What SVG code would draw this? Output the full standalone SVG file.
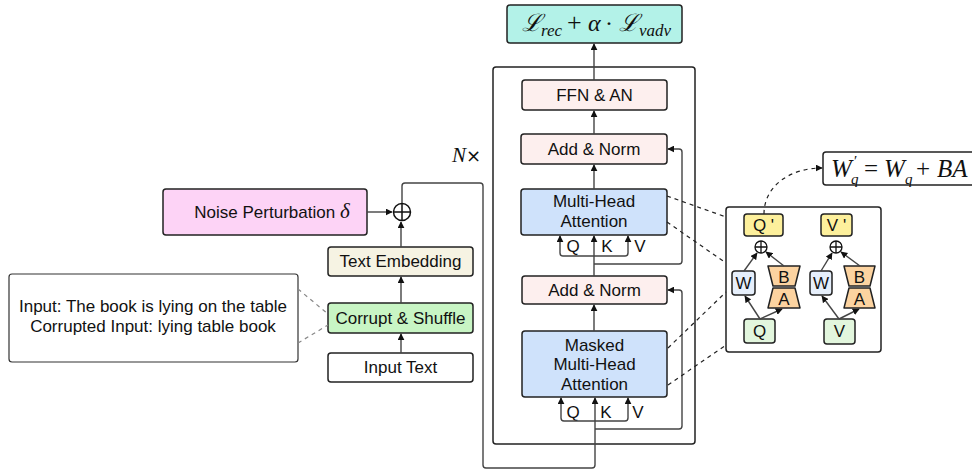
<svg xmlns="http://www.w3.org/2000/svg" width="972" height="473" viewBox="0 0 972 473">
<defs>
<marker id="ah" viewBox="0 0 10 10" refX="9" refY="5" markerWidth="7" markerHeight="7" markerUnits="userSpaceOnUse" orient="auto">
<path d="M0,0 L10,5 L0,10 z" fill="#111"/>
</marker>
</defs>
<style>
.box{stroke:#222;stroke-width:1.5}
.t{font-family:"Liberation Sans",Arial,sans-serif;font-size:17px;fill:#111;text-anchor:middle}
.m{font-family:"Liberation Serif","DejaVu Serif",serif;font-style:italic;fill:#111}
.c{fill:none;stroke:#444;stroke-width:1.4}
.d{fill:none;stroke:#222;stroke-width:1.2;stroke-dasharray:4,4}
.dg{fill:none;stroke:#888;stroke-width:1.2;stroke-dasharray:4,4}
.a{marker-end:url(#ah)}
</style>

<g id="frame"><rect x="493" y="67" width="202" height="377" rx="3" fill="none" class="box"/></g>
<g id="nx"><text x="452" y="162" class="m" font-size="21">N<tspan font-style="normal" font-family="DejaVu Sans,sans-serif" font-size="18">×</tspan></text></g>

<g id="loss">
<rect x="507" y="5" width="175" height="38" rx="3" fill="#b3f2e8" class="box"/>
<text class="m" y="31" font-size="24"><tspan x="522">ℒ</tspan><tspan x="541" y="36" font-size="17">rec</tspan><tspan x="567" y="31" font-style="normal" font-size="26">+</tspan><tspan x="588">α</tspan><tspan x="605" font-style="normal">·</tspan><tspan x="619">ℒ</tspan><tspan x="639" y="36" font-size="17">vadv</tspan></text>
</g>

<g id="ffn"><rect x="522" y="80" width="145" height="30" rx="3" fill="#fdefee" class="box"/><text x="594.5" y="101" class="t">FFN &amp; AN</text></g>
<g id="addnorm1"><rect x="521" y="134" width="146" height="30" rx="3" fill="#fdefee" class="box"/><text x="594" y="155" class="t">Add &amp; Norm</text></g>
<g id="mha"><rect x="521" y="189" width="146" height="46" rx="3" fill="#cfe2fb" class="box"/><text x="594" y="207" class="t">Multi-Head</text><text x="594" y="227" class="t">Attention</text></g>
<g id="qkv1"><text x="573" y="252" class="t">Q</text><text x="607" y="252" class="t">K</text><text x="640" y="252" class="t">V</text></g>
<g id="addnorm2"><rect x="522" y="276" width="145" height="28" rx="3" fill="#fdefee" class="box"/><text x="594.5" y="296" class="t">Add &amp; Norm</text></g>
<g id="mmha"><rect x="522" y="331" width="145" height="66" rx="3" fill="#cfe2fb" class="box"/><text x="594.5" y="351" class="t">Masked</text><text x="594.5" y="370" class="t">Multi-Head</text><text x="594.5" y="390" class="t">Attention</text></g>
<g id="qkv2"><text x="573" y="418" class="t">Q</text><text x="606" y="418" class="t">K</text><text x="638" y="418" class="t">V</text></g>

<g id="noise"><rect x="163" y="189" width="204" height="46" rx="3" fill="#fdd3f6" class="box"/><text x="272" y="218" class="t">Noise Perturbation <tspan class="m" font-size="21">δ</tspan></text></g>
<g id="plus"><circle cx="402" cy="212" r="8.5" fill="#fff" stroke="#111" stroke-width="1.5"/><path d="M393.5,212 H410.5 M402,203.5 V220.5" stroke="#111" stroke-width="1.5"/></g>
<g id="textemb"><rect x="328" y="247" width="145" height="29" rx="3" fill="#f6f3e3" class="box"/><text x="400.5" y="267" class="t">Text Embedding</text></g>
<g id="corrupt"><rect x="328" y="303" width="145" height="30" rx="3" fill="#c8f5c4" class="box"/><text x="400.5" y="324" class="t">Corrupt &amp; Shuffle</text></g>
<g id="input"><rect x="328" y="353" width="145" height="29" rx="3" fill="#fff" class="box"/><text x="400.5" y="373" class="t">Input Text</text></g>
<g id="example"><rect x="9" y="274" width="289" height="88" rx="3" fill="#fff" stroke="#333" stroke-width="1.2"/><text x="153" y="312" class="t">Input: The book is lying on the table</text><text x="153" y="332" class="t">Corrupted Input: lying table book</text></g>

<g id="formula"><rect x="823" y="152" width="160" height="33" rx="3" fill="#fff" class="box"/>
<text class="m" y="177" font-size="25"><tspan x="831">W</tspan><tspan x="854" y="166" font-size="15" font-style="normal">′</tspan><tspan x="851" y="184" font-size="15">q</tspan><tspan x="864" y="177" font-style="normal">=</tspan><tspan x="884">W</tspan><tspan x="905" y="184" font-size="15">q</tspan><tspan x="916" y="177" font-style="normal">+</tspan><tspan x="937">BA</tspan></text></g>

<g id="lora">
<rect x="726" y="207" width="155" height="145" rx="3" fill="#fff" class="box"/>
<g id="qprime"><rect x="744" y="214" width="39" height="22" rx="3" fill="#fdf09c" class="box"/><text x="763.5" y="231" class="t" font-size="16">Q '</text></g>
<g id="vprime"><rect x="821" y="214" width="31" height="22" rx="3" fill="#fdf09c" class="box"/><text x="836.5" y="231" class="t" font-size="16">V '</text></g>
<g id="plusq"><circle cx="761" cy="247" r="6" fill="#fff" stroke="#111" stroke-width="1.3"/><path d="M755,247 H767 M761,241 V253" stroke="#111" stroke-width="1.3"/></g>
<g id="plusv"><circle cx="836" cy="247" r="6" fill="#fff" stroke="#111" stroke-width="1.3"/><path d="M830,247 H842 M836,241 V253" stroke="#111" stroke-width="1.3"/></g>
<g id="wq"><rect x="732" y="271" width="23" height="24" rx="3" fill="#e6effb" class="box"/><text x="743.5" y="289" class="t" font-size="16">W</text></g>
<g id="wv"><rect x="810" y="271" width="22" height="24" rx="3" fill="#e6effb" class="box"/><text x="821" y="289" class="t" font-size="16">W</text></g>
<g id="bq"><path d="M768,266 H800 L795,286 H773 Z" fill="#fcd3a0" class="box" stroke-linejoin="round"/><text x="784" y="283" class="t" font-size="16">B</text></g>
<g id="aq"><path d="M773,288 H795 L800,308 H768 Z" fill="#fcd3a0" class="box" stroke-linejoin="round"/><text x="784" y="305" class="t" font-size="16">A</text></g>
<g id="bv"><path d="M844,266 H875 L870,286 H849 Z" fill="#fcd3a0" class="box" stroke-linejoin="round"/><text x="859.5" y="283" class="t" font-size="16">B</text></g>
<g id="av"><path d="M849,288 H870 L875,308 H844 Z" fill="#fcd3a0" class="box" stroke-linejoin="round"/><text x="859.5" y="305" class="t" font-size="16">A</text></g>
<g id="qin"><rect x="744" y="319" width="31" height="24" rx="3" fill="#e2f6dd" class="box"/><text x="759.5" y="337" class="t" font-size="16">Q</text></g>
<g id="vin"><rect x="824" y="319" width="31" height="25" rx="3" fill="#e2f6dd" class="box"/><text x="839.5" y="337" class="t" font-size="16">V</text></g>
</g>

<g id="connectors">
<path class="c a" d="M401,353 V334"/>
<path class="c a" d="M401,303 V277"/>
<path class="c a" d="M401,247 V222"/>
<path class="c a" d="M367,212 H392"/>
<path class="c a" d="M402,203 V186 Q402,183 405,183 H480 Q483,183 483,186 V465 Q483,468 486,468 H592 Q595,468 595,465 V398"/>
<path class="c a" d="M595,421 H564 Q561,421 561,418 V398"/>
<path class="c a" d="M595,421 H625 Q628,421 628,418 V398"/>
<path class="c a" d="M595,429 H679 Q682,429 682,426 V293 Q682,290 679,290 H668"/>
<path class="c a" d="M594,331 V305"/>
<path class="c a" d="M594,276 V236"/>
<path class="c a" d="M594,256 H563 Q560,256 560,253 V236"/>
<path class="c a" d="M594,256 H625 Q628,256 628,253 V236"/>
<path class="c a" d="M594,264 H679 Q682,264 682,261 V152 Q682,149 679,149 H668"/>
<path class="c a" d="M594,189 V165"/>
<path class="c a" d="M594,134 V111"/>
<path class="c a" d="M594,80 V44"/>
<path class="dg" d="M298,289 L328,314"/>
<path class="dg" d="M298,343 L328,325"/>
<path class="d" d="M667,196 L726,217"/>
<path class="d" d="M667,222 L726,263"/>
<path class="d" d="M668,348 L726,292"/>
<path class="d" d="M668,385 L726,345"/>
<path class="d a" d="M764,214 C764,186 790,168 822,168"/>
<path class="c a" stroke="#111" d="M760,319 L745,296"/>
<path class="c a" stroke="#111" d="M760,319 L782,309"/>
<path class="c a" stroke="#111" d="M744,271 L757,253"/>
<path class="c a" stroke="#111" d="M784,266 L766,252"/>
<path class="c a" stroke="#111" d="M839,319 L822,296"/>
<path class="c a" stroke="#111" d="M839,319 L859,309"/>
<path class="c a" stroke="#111" d="M821,271 L832,253"/>
<path class="c a" stroke="#111" d="M860,266 L841,252"/>
</g>
</svg>
